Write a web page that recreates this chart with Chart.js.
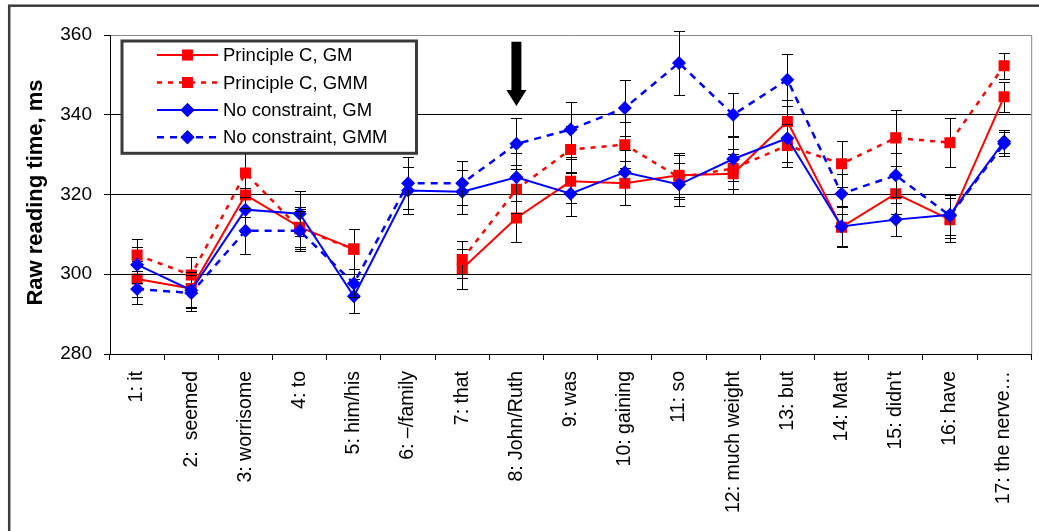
<!DOCTYPE html>
<html><head><meta charset="utf-8">
<script src="https://cdn.jsdelivr.net/npm/chart.js@4.4.1/dist/chart.umd.min.js"></script>
<style>html,body{margin:0;padding:0;background:#fff;overflow:hidden}#wrap{width:1039px;height:531px;position:relative}</style>
</head><body><div id="wrap"><canvas id="c" width="1039" height="531"></canvas></div>
<script>
const categories = ["1: it", "2:  seemed", "3: worrisome", "4: to", "5: him/his", "6: \u2013/family", "7: that", "8: John/Ruth", "9: was", "10: gaining", "11: so", "12: much weight", "13: but", "14: Matt", "15: didn't", "16: have", "17: the nerve\u2026"];
const yTickValues = [280, 300, 320, 340, 360];
const yAxisTitle = "Raw reading time, ms";

const principleC_GM     = [298.8, 296.4, 319.9, 311.8, 306.3, null, 301.4, 314.1, 323.3, 322.8, 324.8, 325.2, 338.3, 311.8, 320.2, 313.7, 344.5];
const principleC_GM_err = [4.5, 4.5, 5.5, 5, 5, null, 5, 6, 5.5, 5.5, 5.5, 5, 5.5, 5, 5, 5.5, 3.7];
const principleC_GMM     = [304.8, 299.8, 325.4, 311.4, 306.3, null, 303.7, 321.3, 331.3, 332.5, 324.3, 326.5, 332.3, 327.7, 334.2, 333.0, 352.3];
const principleC_GMM_err = [4, 4.6, 6, 5, 5, null, 4.6, 6, 6, 5.8, 5.5, 5, 5.5, 5.8, 7, 6.2, 3.3];
const noConstraint_GM     = [302.4, 296.0, 316.2, 315.2, 294.5, 321.0, 320.7, 324.3, 320.2, 325.6, 322.5, 328.9, 334.1, 312.0, 313.7, 314.9, 333.3];
const noConstraint_GM_err = [4.5, 4.5, 5.5, 5.6, 4.2, 6, 5.5, 6, 5.5, 5.5, 5.5, 5.5, 6, 5, 4.2, 5, 3];
const noConstraint_GMM     = [296.3, 295.3, 310.9, 310.9, 297.7, 322.8, 322.8, 332.7, 336.3, 341.7, 353.0, 340.0, 348.8, 320.2, 324.8, 314.7, 332.7];
const noConstraint_GMM_err = [3.8, 4.5, 5.7, 5, 3.5, 6.5, 5.5, 6.4, 7, 7, 8, 5.4, 6.5, 5, 5.5, 5.5, 3];
const seriesNames = ["Principle C, GM", "Principle C, GMM", "No constraint, GM", "No constraint, GMM"];
const arrowCategoryIndex = 7;

const FONT = '"Liberation Sans", Arial, sans-serif';
const RED = '#ff0000', BLUE = '#0000ff';

function mk(label, data, errors, color, style, radius, dash, order) {
  return {
    label, data, errors, borderColor: color, backgroundColor: color,
    pointStyle: style, pointRadius: radius, pointHoverRadius: radius,
    pointBorderWidth: 0, borderWidth: dash ? 2.5 : 2, borderDash: dash || [],
    tension: 0, spanGaps: false, order
  };
}

const datasets = [
  mk(seriesNames[0], principleC_GM, principleC_GM_err, RED, 'rect', 7.8, null, 4),
  mk(seriesNames[1], principleC_GMM, principleC_GMM_err, RED, 'rect', 7.8, [5, 6], 3),
  mk(seriesNames[2], noConstraint_GM, noConstraint_GM_err, BLUE, 'rectRot', 7, null, 2),
  mk(seriesNames[3], noConstraint_GMM, noConstraint_GMM_err, BLUE, 'rectRot', 7, [7, 6], 1)
];

const decor = {
  id: 'decor',
  beforeDraw(chart) {
    const ctx = chart.ctx;
    ctx.save(); ctx.fillStyle = '#fff'; ctx.fillRect(0, 0, chart.width, chart.height); ctx.restore();
  },
  beforeDatasetDraw(chart, args) {
    const ds = chart.data.datasets[args.index];
    const ys = chart.scales.y, ctx = chart.ctx;
    ctx.save();
    ctx.strokeStyle = '#000'; ctx.lineWidth = 1; ctx.setLineDash([]);
    args.meta.data.forEach((pt, i) => {
      const v = ds.data[i], e = ds.errors[i];
      if (v == null || e == null) return;
      const x = Math.round(pt.x) + 0.5;
      const y1 = Math.round(ys.getPixelForValue(v + e)) + 0.5;
      const y2 = Math.round(ys.getPixelForValue(v - e)) + 0.5;
      ctx.beginPath();
      ctx.moveTo(x, y1); ctx.lineTo(x, y2);
      ctx.moveTo(x - 5.5, y1); ctx.lineTo(x + 5.5, y1);
      ctx.moveTo(x - 5.5, y2); ctx.lineTo(x + 5.5, y2);
      ctx.stroke();
    });
    ctx.restore();
  },
  afterDraw(chart) {
    const ctx = chart.ctx, ca = chart.chartArea;
    ctx.save();
    ctx.strokeStyle = '#888'; ctx.lineWidth = 1;
    ctx.beginPath(); ctx.moveTo(ca.right + 0.5, ca.top); ctx.lineTo(ca.right + 0.5, ca.bottom); ctx.stroke();
    ctx.strokeStyle = '#3c3c3c'; ctx.lineWidth = 2.5;
    ctx.strokeRect(9.2, 5.7, 1200, 1000);
    ctx.save();
    ctx.translate(41.7, (ca.top + ca.bottom) / 2 - 2);
    ctx.rotate(-Math.PI / 2);
    ctx.fillStyle = '#000'; ctx.font = 'bold 22px ' + FONT;
    ctx.textAlign = 'center'; ctx.textBaseline = 'alphabetic';
    ctx.fillText(yAxisTitle, 0, 0);
    ctx.restore();
    const ax = chart.scales.x.getPixelForValue(arrowCategoryIndex);
    ctx.fillStyle = '#000';
    ctx.beginPath();
    ctx.moveTo(ax - 5, 41.7); ctx.lineTo(ax + 5, 41.7); ctx.lineTo(ax + 5, 90);
    ctx.lineTo(ax + 10, 90); ctx.lineTo(ax, 106); ctx.lineTo(ax - 10, 90); ctx.lineTo(ax - 5, 90);
    ctx.closePath(); ctx.fill();
    ctx.fillStyle = '#fff';
    ctx.fillRect(122, 41, 294.5, 112.3);
    ctx.strokeStyle = '#3a3a3a'; ctx.lineWidth = 3;
    ctx.strokeRect(122, 41, 294.5, 112.3);
    const rowsY = [55, 82.5, 110, 137.3];
    chart.data.datasets.forEach((ds, i) => {
      const y = rowsY[i];
      ctx.strokeStyle = ds.borderColor; ctx.lineWidth = ds.borderWidth;
      ctx.setLineDash(ds.borderDash);
      ctx.beginPath(); ctx.moveTo(157, y); ctx.lineTo(218, y); ctx.stroke();
      ctx.setLineDash([]);
      Chart.helpers.drawPoint(ctx, { pointStyle: ds.pointStyle, radius: ds.pointRadius, rotation: 0, borderWidth: 0 }, 187.5, y);
      ctx.fillStyle = ds.borderColor; ctx.fill();
      ctx.fillStyle = '#000'; ctx.font = '18.5px ' + FONT;
      ctx.textAlign = 'left'; ctx.textBaseline = 'middle';
      ctx.fillText(ds.label, 223, y + 1);
    });
    ctx.restore();
  }
};

new Chart(document.getElementById('c'), {
  type: 'line',
  data: { labels: categories, datasets },
  options: {
    responsive: false, animation: false, devicePixelRatio: 1,
    layout: { padding: { left: 0, top: 35, right: 6, bottom: 0 } },
    plugins: { legend: { display: false }, tooltip: { enabled: false } },
    scales: {
      x: {
        type: 'category', offset: true,
        grid: { display: true, drawOnChartArea: false, drawTicks: true, tickLength: 6, color: '#000', offset: true },
        border: { display: true, color: '#000', width: 1 },
        ticks: { autoSkip: false, maxRotation: 90, minRotation: 90, padding: 11, color: '#000', font: { family: FONT, size: 19.5 } },
        afterFit(s) { s.height = 177; s.paddingLeft = 0; s.paddingRight = 0; }
      },
      y: {
        min: 280, max: 360,
        afterBuildTicks(s) { s.ticks = yTickValues.map(v => ({ value: v })); },
        grid: { color: ctx => (ctx.tick && ctx.tick.value === 360) ? '#888' : '#000', tickColor: '#000', tickLength: 6, lineWidth: 1 },
        border: { display: true, color: '#000', width: 1 },
        ticks: { padding: 12, color: '#000', font: { family: FONT, size: 19 } },
        afterFit(s) { s.width = 110; s.paddingTop = 0; s.paddingBottom = 0; }
      }
    }
  },
  plugins: [decor]
});
</script>
</body></html>
